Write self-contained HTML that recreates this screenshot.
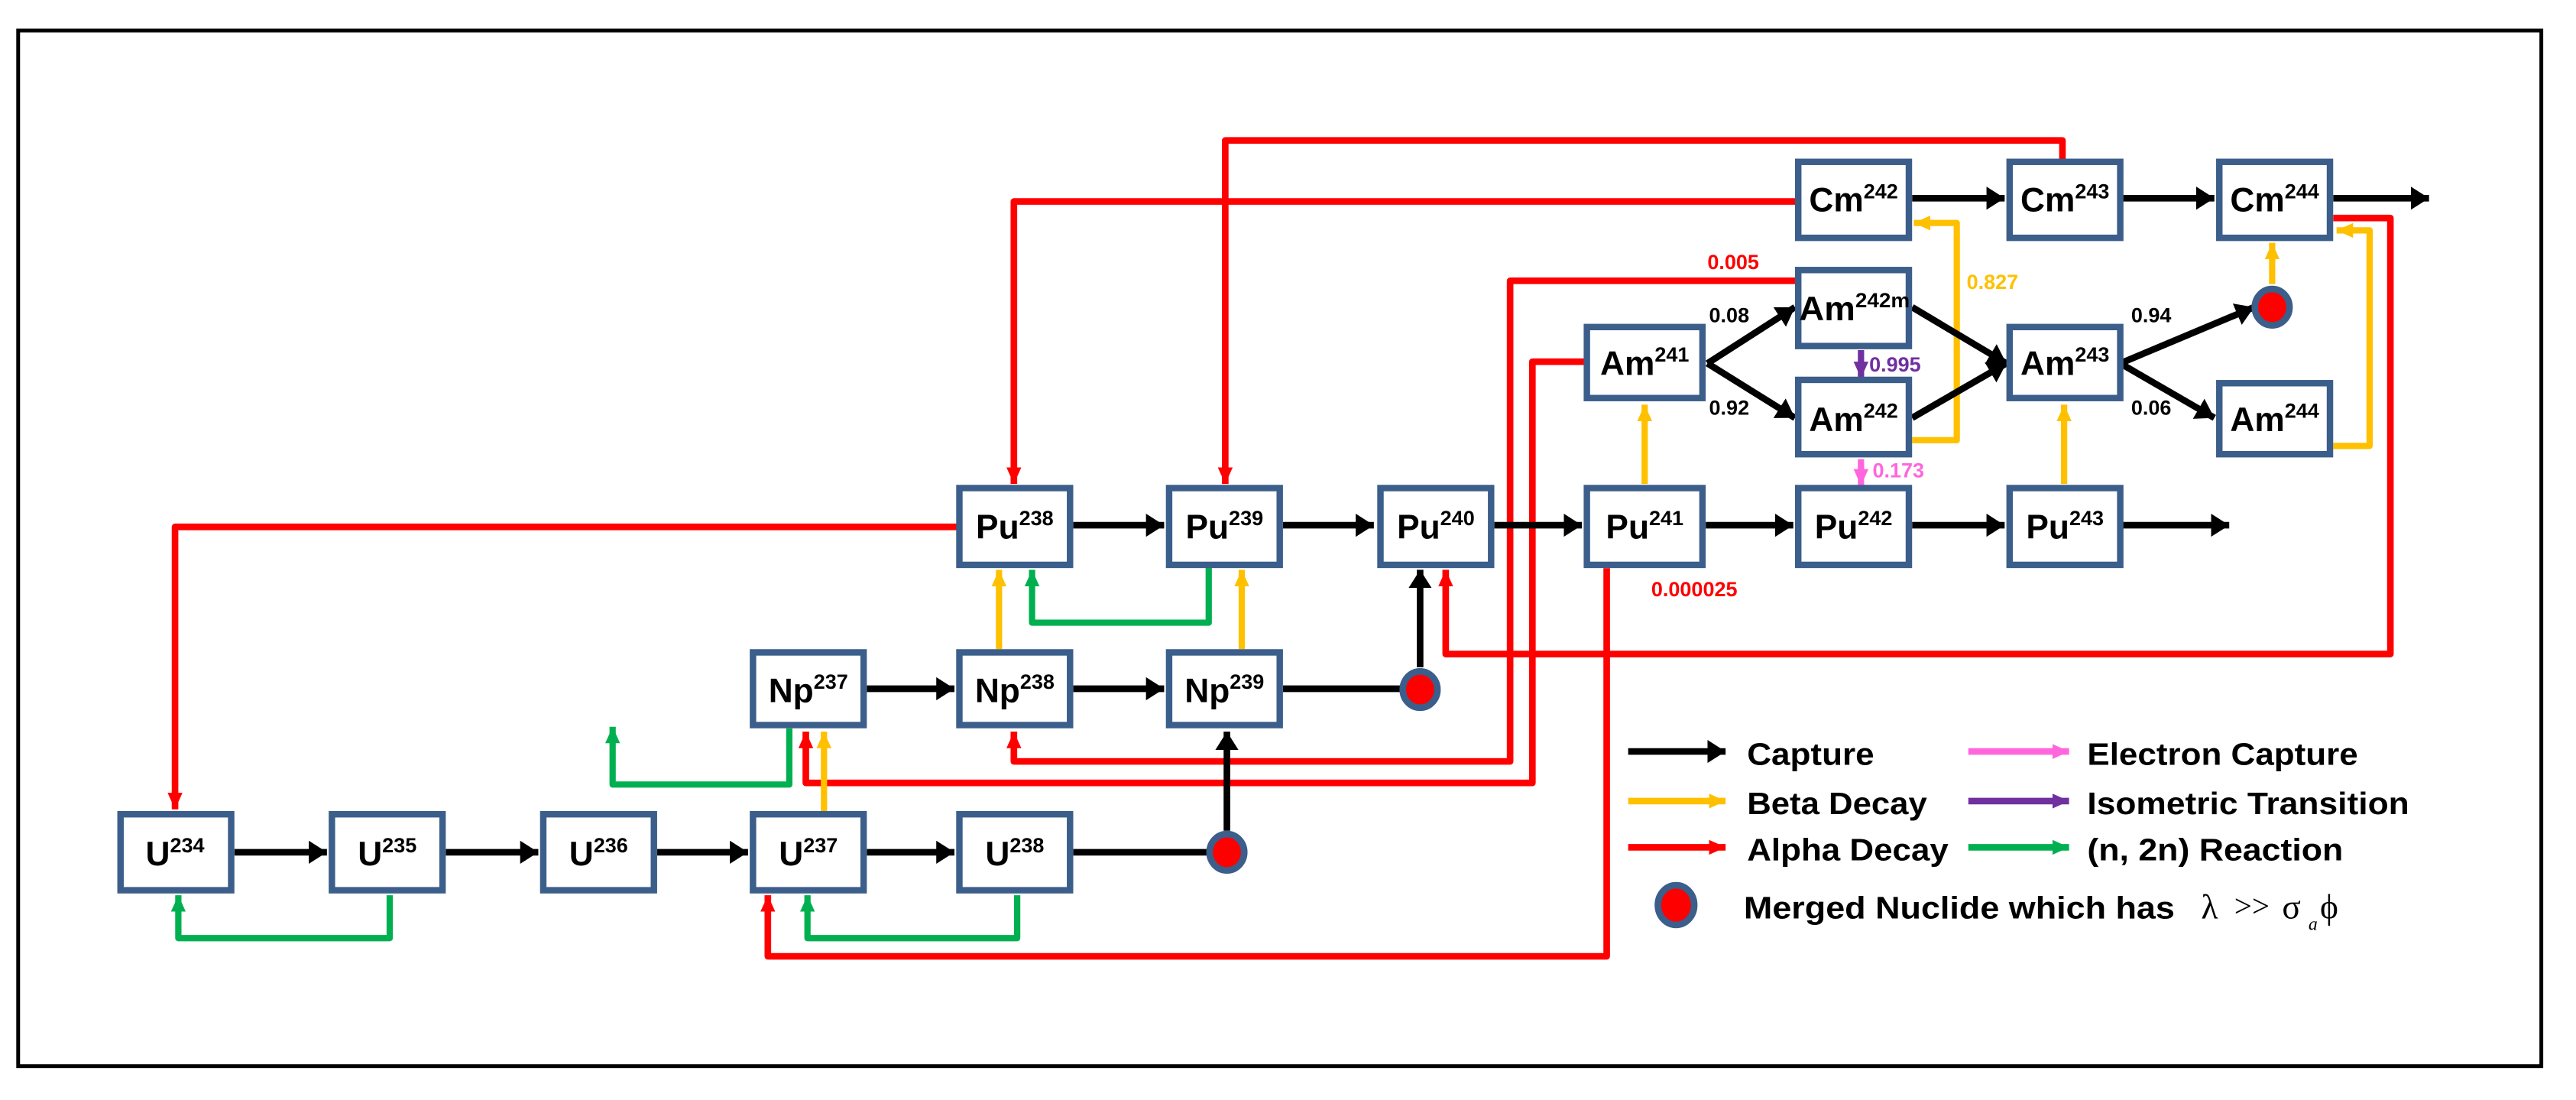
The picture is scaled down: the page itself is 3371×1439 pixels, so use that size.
<!DOCTYPE html>
<html><head><meta charset="utf-8"><style>
html,body{margin:0;padding:0;background:#fff;}
svg{display:block;}
text{font-family:"Liberation Sans",Arial,sans-serif;font-weight:bold;}
</style></head><body>
<svg width="3371" height="1439" viewBox="0 0 1560 666" preserveAspectRatio="none" xmlns="http://www.w3.org/2000/svg">
<defs>
<marker id="mk" markerUnits="userSpaceOnUse" markerWidth="13" markerHeight="15" refX="11" refY="7" orient="auto"><path d="M0,0 L11,7 L0,14 Z" fill="#000"/></marker>
<marker id="mr" markerUnits="userSpaceOnUse" markerWidth="12" markerHeight="10" refX="10" refY="4.5" orient="auto"><path d="M0,0 L10,4.5 L0,9 Z" fill="#FF0000"/></marker>
<marker id="my" markerUnits="userSpaceOnUse" markerWidth="12" markerHeight="10" refX="10" refY="4.5" orient="auto"><path d="M0,0 L10,4.5 L0,9 Z" fill="#FFC000"/></marker>
<marker id="mg" markerUnits="userSpaceOnUse" markerWidth="12" markerHeight="10" refX="10" refY="4.5" orient="auto"><path d="M0,0 L10,4.5 L0,9 Z" fill="#00B050"/></marker>
<marker id="mp" markerUnits="userSpaceOnUse" markerWidth="12" markerHeight="10" refX="10" refY="4.5" orient="auto"><path d="M0,0 L10,4.5 L0,9 Z" fill="#FF66DD"/></marker>
<marker id="mv" markerUnits="userSpaceOnUse" markerWidth="12" markerHeight="10" refX="10" refY="4.5" orient="auto"><path d="M0,0 L10,4.5 L0,9 Z" fill="#7030A0"/></marker>
</defs>

<rect x="11" y="18.5" width="1528" height="627" fill="none" stroke="#000" stroke-width="2.3"/>

<g fill="none" stroke="#FF0000" stroke-width="4" stroke-linejoin="round">
<path d="M581,319 H106 V490" marker-end="url(#mr)"/>
<path d="M1089,122 H614 V293" marker-end="url(#mr)"/>
<path d="M1249,97 V85 H742 V293" marker-end="url(#mr)"/>
<path d="M1089,170 H914.5 V461 H614 V443" marker-end="url(#mr)"/>
<path d="M961,219 H928 V474 H488 V443" marker-end="url(#mr)"/>
<path d="M973,344 V579 H465 V542" marker-end="url(#mr)"/>
<path d="M1413,132 H1447.6 V396 H875.5 V345" marker-end="url(#mr)"/>
</g>

<g fill="none" stroke="#00B050" stroke-width="3.8" stroke-linejoin="round">
<path d="M236,542 V568 H108 V542" marker-end="url(#mg)"/>
<path d="M616,542 V568 H489 V542" marker-end="url(#mg)"/>
<path d="M478,441 V475 H371 V440" marker-end="url(#mg)"/>
<path d="M732,343 V377 H625 V345" marker-end="url(#mg)"/>
</g>

<g fill="none" stroke="#FFC000" stroke-width="3.8" stroke-linejoin="round">
<path d="M499,493 V443" marker-end="url(#my)"/>
<path d="M605,393 V345" marker-end="url(#my)"/>
<path d="M752,393 V345" marker-end="url(#my)"/>
<path d="M996,293 V245" marker-end="url(#my)"/>
<path d="M1250,293 V245" marker-end="url(#my)"/>
<path d="M1158,266.5 H1185 V135 H1159" marker-end="url(#my)"/>
<path d="M1413,270 H1435 V139.5 H1415" marker-end="url(#my)"/>
<path d="M1376,172 V147" marker-end="url(#my)"/>
</g>

<g fill="none" stroke="#000" stroke-width="4">
<path d="M142,516 H198" marker-end="url(#mk)"/>
<path d="M270,516 H326" marker-end="url(#mk)"/>
<path d="M398,516 H453" marker-end="url(#mk)"/>
<path d="M525,516 H578" marker-end="url(#mk)"/>
<path d="M650,516 H732"/>
<path d="M525,417 H578" marker-end="url(#mk)"/>
<path d="M650,417 H705" marker-end="url(#mk)"/>
<path d="M777,417 H849"/>
<path d="M743,503 V443" marker-end="url(#mk)"/>
<path d="M860,404 V345" marker-end="url(#mk)"/>
<path d="M650,318 H705" marker-end="url(#mk)"/>
<path d="M777,318 H832" marker-end="url(#mk)"/>
<path d="M905,318 H958" marker-end="url(#mk)"/>
<path d="M1033,318 H1086" marker-end="url(#mk)"/>
<path d="M1158,318 H1214" marker-end="url(#mk)"/>
<path d="M1284,318 H1350" marker-end="url(#mk)"/>
<path d="M1158,120 H1214" marker-end="url(#mk)"/>
<path d="M1284,120 H1341" marker-end="url(#mk)"/>
<path d="M1413,120 H1471" marker-end="url(#mk)"/>
<path d="M1034,220 L1087,186" marker-end="url(#mk)"/>
<path d="M1034,220 L1087,253" marker-end="url(#mk)"/>
<path d="M1158,186 L1215,220" marker-end="url(#mk)"/>
<path d="M1158,253 L1215,220" marker-end="url(#mk)"/>
<path d="M1284,220 L1365,186" marker-end="url(#mk)"/>
<path d="M1284,220 L1341,253" marker-end="url(#mk)"/>
</g>

<path d="M1127,212 V229" stroke="#7030A0" stroke-width="3.8" marker-end="url(#mv)"/>
<path d="M1127,278 V294" stroke="#FF66DD" stroke-width="3.8" marker-end="url(#mp)"/>

<g fill="#FF0000" stroke="#3B5E8B" stroke-width="4">
<ellipse cx="743" cy="516" rx="10.5" ry="11"/>
<ellipse cx="860" cy="417.5" rx="10.5" ry="11"/>
<ellipse cx="1376" cy="186" rx="10.5" ry="11"/>
</g>

<g fill="#fff" stroke="#3B5E8B" stroke-width="3.9">
<rect x="73" y="493" width="67" height="46"/>
<rect x="201" y="493" width="67" height="46"/>
<rect x="329" y="493" width="67" height="46"/>
<rect x="456" y="493" width="67" height="46"/>
<rect x="581" y="493" width="67" height="46"/>
<rect x="456" y="395" width="67" height="44"/>
<rect x="581" y="395" width="67" height="44"/>
<rect x="708" y="395" width="67" height="44"/>
<rect x="581" y="295.5" width="67" height="46.5"/>
<rect x="708" y="295.5" width="67" height="46.5"/>
<rect x="836" y="295.5" width="67" height="46.5"/>
<rect x="961" y="295.5" width="70" height="46.5"/>
<rect x="1089" y="295.5" width="67" height="46.5"/>
<rect x="1217" y="295.5" width="67" height="46.5"/>
<rect x="961" y="198" width="70" height="43"/>
<rect x="1217" y="198" width="67" height="43"/>
<rect x="1089" y="163.5" width="67" height="46"/>
<rect x="1089" y="230" width="67" height="45"/>
<rect x="1344" y="232" width="67" height="43"/>
<rect x="1089" y="98" width="67" height="46"/>
<rect x="1217" y="98" width="67" height="46"/>
<rect x="1344" y="98" width="67" height="46"/>
</g>

<g font-size="20.5" text-anchor="middle" fill="#000">
<text x="106" y="524">U<tspan font-size="12.5" dy="-8">234</tspan></text>
<text x="234.5" y="524">U<tspan font-size="12.5" dy="-8">235</tspan></text>
<text x="362.5" y="524">U<tspan font-size="12.5" dy="-8">236</tspan></text>
<text x="489.5" y="524">U<tspan font-size="12.5" dy="-8">237</tspan></text>
<text x="614.5" y="524">U<tspan font-size="12.5" dy="-8">238</tspan></text>
<text x="489.5" y="425">Np<tspan font-size="12.5" dy="-8">237</tspan></text>
<text x="614.5" y="425">Np<tspan font-size="12.5" dy="-8">238</tspan></text>
<text x="741.5" y="425">Np<tspan font-size="12.5" dy="-8">239</tspan></text>
<text x="614.5" y="326">Pu<tspan font-size="12.5" dy="-8">238</tspan></text>
<text x="741.5" y="326">Pu<tspan font-size="12.5" dy="-8">239</tspan></text>
<text x="869.5" y="326">Pu<tspan font-size="12.5" dy="-8">240</tspan></text>
<text x="996" y="326">Pu<tspan font-size="12.5" dy="-8">241</tspan></text>
<text x="1122.5" y="326">Pu<tspan font-size="12.5" dy="-8">242</tspan></text>
<text x="1250.5" y="326">Pu<tspan font-size="12.5" dy="-8">243</tspan></text>
<text x="996" y="227">Am<tspan font-size="12.5" dy="-8">241</tspan></text>
<text x="1250.5" y="227">Am<tspan font-size="12.5" dy="-8">243</tspan></text>
<text x="1123" y="194" textLength="67" lengthAdjust="spacingAndGlyphs">Am<tspan font-size="12.5" dy="-8">242m</tspan></text>
<text x="1122.5" y="261">Am<tspan font-size="12.5" dy="-8">242</tspan></text>
<text x="1377.5" y="261">Am<tspan font-size="12.5" dy="-8">244</tspan></text>
<text x="1122.5" y="128">Cm<tspan font-size="12.5" dy="-8">242</tspan></text>
<text x="1250.5" y="128">Cm<tspan font-size="12.5" dy="-8">243</tspan></text>
<text x="1377.5" y="128">Cm<tspan font-size="12.5" dy="-8">244</tspan></text>
</g>

<g font-size="12.5">
<text x="1035" y="195" fill="#000">0.08</text>
<text x="1035" y="251" fill="#000">0.92</text>
<text x="1290.6" y="195" fill="#000">0.94</text>
<text x="1290.6" y="251" fill="#000">0.06</text>
<text x="1132" y="225" fill="#7030A0">0.995</text>
<text x="1134" y="289" fill="#FF66DD">0.173</text>
<text x="1191" y="175" fill="#FFC000">0.827</text>
<text x="1034" y="163" fill="#FF0000">0.005</text>
<text x="1000" y="361" fill="#FF0000">0.000025</text>
</g>

<g stroke-width="4" fill="none">
<path d="M986,455 H1045" stroke="#000" marker-end="url(#mk)"/>
<path d="M986,485 H1045" stroke="#FFC000" marker-end="url(#my)"/>
<path d="M986,513 H1045" stroke="#FF0000" marker-end="url(#mr)"/>
<path d="M1192,455 H1253" stroke="#FF66DD" marker-end="url(#mp)"/>
<path d="M1192,485 H1253" stroke="#7030A0" marker-end="url(#mv)"/>
<path d="M1192,513 H1253" stroke="#00B050" marker-end="url(#mg)"/>
</g>
<ellipse cx="1015" cy="548" rx="11" ry="12" fill="#FF0000" stroke="#3B5E8B" stroke-width="4"/>
<g font-size="19" fill="#000">
<text x="1058" y="463" textLength="77" lengthAdjust="spacingAndGlyphs">Capture</text>
<text x="1058" y="493" textLength="109" lengthAdjust="spacingAndGlyphs">Beta Decay</text>
<text x="1058" y="521" textLength="122" lengthAdjust="spacingAndGlyphs">Alpha Decay</text>
<text x="1264" y="463" textLength="164" lengthAdjust="spacingAndGlyphs">Electron Capture</text>
<text x="1264" y="493" textLength="195" lengthAdjust="spacingAndGlyphs">Isometric Transition</text>
<text x="1264" y="521" textLength="155" lengthAdjust="spacingAndGlyphs">(n, 2n) Reaction</text>
<text x="1056" y="556" textLength="261" lengthAdjust="spacingAndGlyphs">Merged Nuclide which has</text>
</g>
<g fill="#000">
<text x="1333" y="556" font-size="21" style="font-weight:normal;font-family:'Liberation Serif',serif">λ</text>
<text x="1353" y="555" font-size="19" style="font-weight:normal;font-family:'Liberation Serif',serif">&gt;&gt;</text>
<text x="1382" y="556" font-size="21" style="font-weight:normal;font-family:'Liberation Serif',serif">σ</text>
<text x="1398" y="563" font-size="11" style="font-weight:normal;font-style:italic;font-family:'Liberation Serif',serif">a</text>
<text x="1405" y="556" font-size="21" style="font-weight:normal;font-family:'Liberation Serif',serif">ϕ</text>
</g>
</svg>
</body></html>
